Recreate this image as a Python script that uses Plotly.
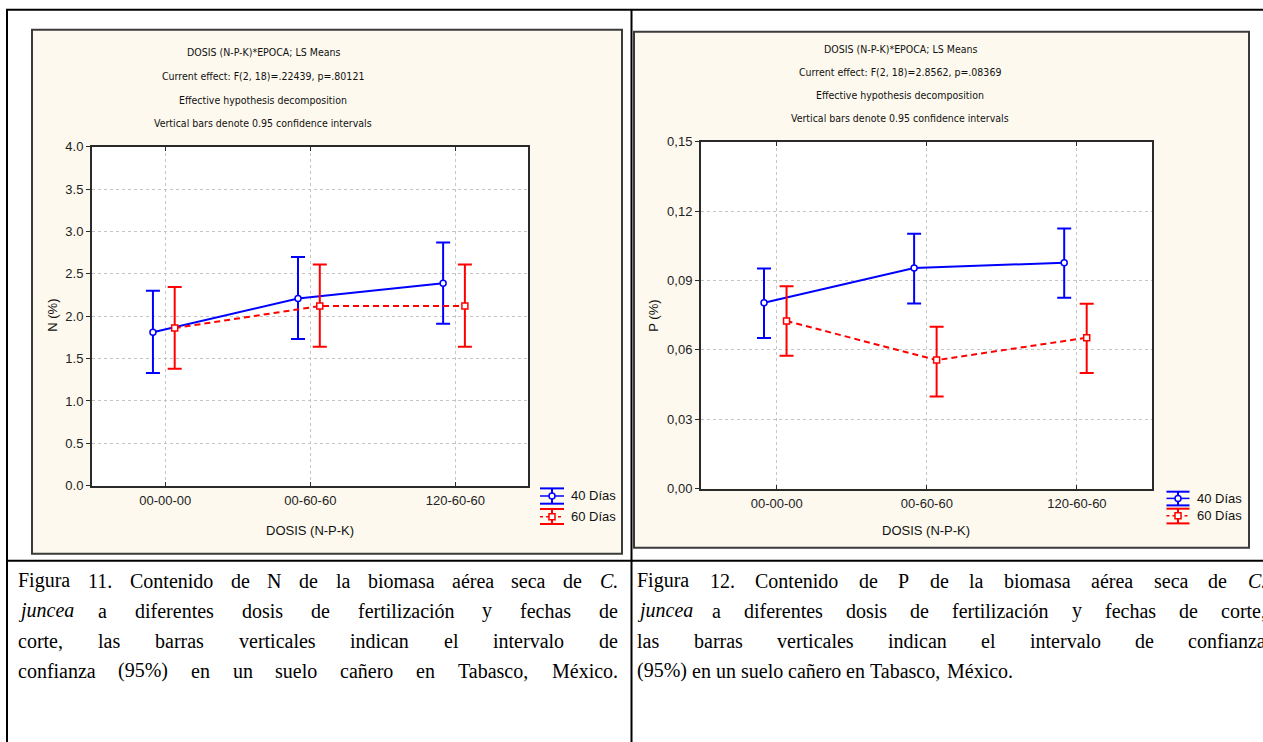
import plotly.graph_objects as go

# ---------------- data ----------------
categories = ["00-00-00", "00-60-60", "120-60-60"]
series_names = ["40 Días", "60 Días"]

n_40_mean = [1.81, 2.21, 2.39]
n_40_low = [1.33, 1.73, 1.91]
n_40_high = [2.30, 2.70, 2.87]
n_60_mean = [1.86, 2.12, 2.12]
n_60_low = [1.38, 1.64, 1.64]
n_60_high = [2.345, 2.61, 2.61]

p_40_mean = [0.0804, 0.0954, 0.0977]
p_40_low = [0.0652, 0.0801, 0.0826]
p_40_high = [0.0952, 0.1102, 0.1125]
p_60_mean = [0.0725, 0.0556, 0.0653]
p_60_low = [0.0575, 0.0399, 0.0500]
p_60_high = [0.0875, 0.0700, 0.0800]

n_ticks = [0.0, 0.5, 1.0, 1.5, 2.0, 2.5, 3.0, 3.5, 4.0]
n_ticktext = ["0.0", "0.5", "1.0", "1.5", "2.0", "2.5", "3.0", "3.5", "4.0"]
p_ticks = [0.0, 0.03, 0.06, 0.09, 0.12, 0.15]
p_ticktext = ["0,00", "0,03", "0,06", "0,09", "0,12", "0,15"]

title_n = ["DOSIS (N-P-K)*EPOCA; LS Means",
           "Current effect: F(2, 18)=.22439, p=.80121",
           "Effective hypothesis decomposition",
           "Vertical bars denote 0.95 confidence intervals"]
title_p = ["DOSIS (N-P-K)*EPOCA; LS Means",
           "Current effect: F(2, 18)=2.8562, p=.08369",
           "Effective hypothesis decomposition",
           "Vertical bars denote 0.95 confidence intervals"]

caption_left = ["Figura 11. Contenido de N de la biomasa aérea seca de <i>C.</i>",
                "<i>juncea</i> a diferentes dosis de fertilización y fechas de",
                "corte, las barras verticales indican el intervalo de",
                "confianza (95%) en un suelo cañero en Tabasco, México."]
caption_right = ["Figura 12. Contenido de P de la biomasa aérea seca de <i>C.</i>",
                 "<i>juncea</i> a diferentes dosis de fertilización y fechas de corte,",
                 "las barras verticales indican el intervalo de confianza",
                 "(95%) en un suelo cañero en Tabasco, México."]

# ---------------- geometry helpers (target pixels -> paper) ----------------
W, H = 1263, 742
SY, OY = 0.98, 6.2          # vertical correction of the viewer
def X(px): return px / W
def Y(py): return 1 - ((py - OY) / SY) / H

BLUE = "#0000FF"
RED = "#FF0000"
BEIGE = "#FDF9EE"
SANS = "Liberation Sans, Arial, sans-serif"
NARROW = "DejaVu Sans Condensed, Liberation Sans Narrow, sans-serif"
SERIF = "Liberation Serif, Times New Roman, serif"

OFF_40, OFF_60 = -0.085, 0.065

panels = [
    dict(frame=(32, 29, 622, 553), plot=(92, 146, 528, 485),
         m40=n_40_mean, l40=n_40_low, h40=n_40_high,
         m60=n_60_mean, l60=n_60_low, h60=n_60_high,
         yr=[0, 4.0], tv=n_ticks, tt=n_ticktext, rticks=11,
         titles=title_n, tcx=263, tys=[51, 75, 99, 122.5],
         ylab="N (%)", ylx=53, yly=315, xlx=310, xly=530,
         leg=(540, 564, 569, [(487.7, 495.3, 503), (508.3, 516, 523.3)])),
    dict(frame=(634, 31, 1249, 547), plot=(701, 141, 1152, 488),
         m40=p_40_mean, l40=p_40_low, h40=p_40_high,
         m60=p_60_mean, l60=p_60_low, h60=p_60_high,
         yr=[0, 0.15], tv=p_ticks, tt=p_ticktext, rticks=9,
         titles=title_p, tcx=900, tys=[48.5, 71.5, 94.5, 117.5],
         ylab="P (%)", ylx=654, yly=315, xlx=926, xly=530,
         leg=(1166.5, 1189.5, 1195, [(491, 497.7, 504.7), (508, 515, 522.7)])),
]

fig = go.Figure()
shapes = []
annotations = []

for i, pn in enumerate(panels):
    k = "" if i == 0 else str(i + 1)
    xa, ya = "x" + k, "y" + k
    fx0, fy0, fx1, fy1 = pn["frame"]
    px0, py0, px1, py1 = pn["plot"]
    shapes.append(dict(type="rect", xref="paper", yref="paper", layer="below",
                       x0=X(fx0), x1=X(fx1), y0=Y(fy1), y1=Y(fy0),
                       fillcolor=BEIGE, line=dict(color="#3a3a3a", width=2)))
    shapes.append(dict(type="rect", xref="paper", yref="paper", layer="below",
                       x0=X(px0), x1=X(px1), y0=Y(py1), y1=Y(py0),
                       fillcolor="white", line=dict(width=0)))
    xs = list(range(len(categories)))
    for name, m, lo, hi, col, sym, dash, off in [
        (series_names[0], pn["m40"], pn["l40"], pn["h40"], BLUE, "circle", "solid", OFF_40),
        (series_names[1], pn["m60"], pn["l60"], pn["h60"], RED, "square", "6px,4px", OFF_60)]:
        fig.add_trace(go.Scatter(
            x=[v + off for v in xs], y=m, name=name, mode="lines+markers",
            xaxis=xa, yaxis=ya, showlegend=False,
            line=dict(color=col, width=2, dash=dash),
            marker=dict(symbol=sym, size=6, color="white", line=dict(color=col, width=1.5)),
            error_y=dict(type="data", symmetric=False,
                         array=[h - v for h, v in zip(hi, m)],
                         arrayminus=[v - l for l, v in zip(lo, m)],
                         color=col, thickness=2, width=7)))
    axis_common = dict(showline=True, linecolor="#2a2a2a", linewidth=2, mirror=True,
                       showgrid=True, gridcolor="#c4c4c4", griddash="dot", gridwidth=1,
                       zeroline=False, tickfont=dict(family=SANS, size=13, color="#222"))
    fig.update_layout(**{
        "xaxis" + k: dict(domain=[X(px0), X(px1)], anchor=ya, range=[-0.505, 2.5],
                          tickvals=xs, ticktext=categories, ticks="inside", ticklen=4,
                          tickcolor="#2a2a2a", ticklabelstandoff=2,
                          **{**axis_common, "mirror": "ticks"}),
        "yaxis" + k: dict(domain=[Y(py1), Y(py0)], anchor=xa, range=pn["yr"],
                          tickvals=pn["tv"], ticktext=pn["tt"], ticks="outside", ticklen=4,
                          tickcolor="#2a2a2a", **axis_common),
    })
    rk = str(i + 3)
    fig.update_layout(**{
        "yaxis" + rk: dict(overlaying=ya, anchor=xa, side="right", range=[0, pn["rticks"]],
                           tickvals=list(range(pn["rticks"] + 1)), ticks="inside", ticklen=4,
                           tickcolor="#2a2a2a", tickwidth=2, showticklabels=False,
                           showgrid=False, showline=False, zeroline=False)})
    for t, ty in zip(pn["titles"], pn["tys"]):
        annotations.append(dict(text=t, x=X(pn["tcx"]), y=Y(ty), xref="paper", yref="paper",
                                showarrow=False, xanchor="center", yanchor="middle",
                                font=dict(family=NARROW, size=10.5, color="#111")))
    annotations.append(dict(text=pn["ylab"], x=X(pn["ylx"]), y=Y(pn["yly"]), xref="paper",
                            yref="paper", showarrow=False, textangle=-90,
                            xanchor="center", yanchor="middle",
                            font=dict(family=SANS, size=13, color="#111")))
    annotations.append(dict(text="DOSIS (N-P-K)", x=X(pn["xlx"]), y=Y(pn["xly"]), xref="paper",
                            yref="paper", showarrow=False, xanchor="center", yanchor="middle",
                            font=dict(family=SANS, size=13, color="#111")))
    lx0, lx1, ltx, rows = pn["leg"]
    lxc = (lx0 + lx1) / 2
    for (top, mid, bot), col, name, sym in zip(rows, [BLUE, RED], series_names, ["circle", "square"]):
        for yy in (top, bot):
            shapes.append(dict(type="line", xref="paper", yref="paper", x0=X(lx0), x1=X(lx1),
                               y0=Y(yy), y1=Y(yy), line=dict(color=col, width=2)))
        shapes.append(dict(type="line", xref="paper", yref="paper", x0=X(lxc), x1=X(lxc),
                           y0=Y(bot), y1=Y(top), line=dict(color=col, width=2)))
        shapes.append(dict(type="line", xref="paper", yref="paper", x0=X(lx0), x1=X(lx1),
                           y0=Y(mid), y1=Y(mid),
                           line=dict(color=col, width=1.5, dash="solid" if sym == "circle" else "3px,3px")))
        stype = "circle" if sym == "circle" else "rect"
        shapes.append(dict(type=stype, xref="paper", yref="paper", x0=X(lxc - 3), x1=X(lxc + 3),
                           y0=Y(mid + 3), y1=Y(mid - 3), fillcolor="white",
                           line=dict(color=col, width=1.5)))
        annotations.append(dict(text=name, x=X(ltx), y=Y(mid), xref="paper", yref="paper",
                                showarrow=False, xanchor="left", yanchor="middle",
                                font=dict(family=SANS, size=13, color="#111")))

# ---------------- table borders ----------------
for (x0, y0, x1, y1) in [(6, 9, 1263, 9), (7, 9, 7, 760), (631.5, 9, 631.5, 760), (6, 560, 1263, 560)]:
    shapes.append(dict(type="line", xref="paper", yref="paper", x0=X(x0), x1=X(x1),
                       y0=Y(y0), y1=Y(y1), line=dict(color="black", width=2)))

# ---------------- captions (justified, Times metrics) ----------------
TW = {' ': 250, 'a': 444, 'b': 500, 'c': 444, 'd': 500, 'e': 444, 'f': 333, 'g': 500, 'h': 500,
      'i': 278, 'j': 278, 'k': 500, 'l': 278, 'm': 778, 'n': 500, 'o': 500, 'p': 500, 'q': 500,
      'r': 333, 's': 389, 't': 278, 'u': 500, 'v': 500, 'w': 722, 'x': 500, 'y': 500, 'z': 444,
      'C': 667, 'F': 556, 'M': 889, 'N': 722, 'P': 556, 'T': 611, 'é': 444, 'ó': 500, 'ñ': 500,
      '.': 250, ',': 250, '(': 333, ')': 333, '%': 833}
CAP_FS = 20

def word_width(w):
    plain = w.replace("<i>", "").replace("</i>", "")
    return sum(TW.get(ch, 500) for ch in plain) * CAP_FS / 1000.0

def add_caption(lines, left, right, justify_flags, ys):
    for line, just, yy in zip(lines, justify_flags, ys):
        words = line.split(" ")
        ww = [word_width(w) for w in words]
        gap = (right - left - sum(ww)) / (len(words) - 1) if just else TW[' '] * CAP_FS / 1000.0
        x = left
        for w, wdt in zip(words, ww):
            annotations.append(dict(text=w, x=X(x - 1), y=Y(yy), xref="paper", yref="paper",
                                    showarrow=False, xanchor="left", yanchor="middle",
                                    font=dict(family=SERIF, size=CAP_FS, color="black")))
            x += wdt + gap

add_caption(caption_left, 17, 617, [True, True, True, True], [580, 610, 640, 670])
add_caption(caption_right, 636, 1265, [True, True, True, False], [580, 610, 640, 670])

fig.update_layout(width=W, height=H, margin=dict(l=0, r=0, t=0, b=0),
                  paper_bgcolor="white", plot_bgcolor="white",
                  shapes=shapes, annotations=annotations, showlegend=False)

fig.write_html("out.html", config={"displayModeBar": False},
               post_script="document.body.style.margin='0';document.body.style.overflow='hidden';")
